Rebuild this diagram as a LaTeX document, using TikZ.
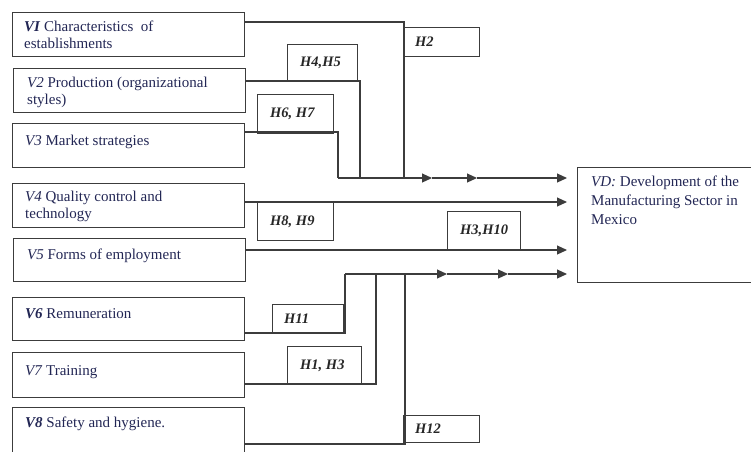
\documentclass[tikz,border=0pt]{standalone}
\usepackage{fontspec}
\setmainfont{Liberation Serif}
\usetikzlibrary{arrows.meta}
\definecolor{inkblue}{RGB}{34,38,84}
\definecolor{inkline}{RGB}{60,60,60}
\tikzset{box/.style={draw=inkline,line width=1.1pt,anchor=north west,inner sep=0pt},
vtext/.style={anchor=north west,inner sep=0pt,align=left,text=inkblue,font=\fontsize{15}{16.5}\selectfont},
htext/.style={anchor=west,inner sep=0pt,text=black!85,font=\fontsize{14.5}{16}\selectfont\bfseries\itshape},
link/.style={draw=inkline,line width=1.1pt},
flow/.style={link,-{Triangle[length=10pt,width=9pt]}}}

\begin{document}
\begin{tikzpicture}[x=1pt,y=-1pt]
\path[use as bounding box] (0,0) rectangle (751,451);
% variable boxes
\node[box,minimum width=232pt,minimum height=44pt] (v1) at (12,12) {};
\node[box,minimum width=232pt,minimum height=44pt] (v2) at (13,68) {};
\node[box,minimum width=232pt,minimum height=44pt] (v3) at (12,123) {};
\node[box,minimum width=232pt,minimum height=44pt] (v4) at (12,183) {};
\node[box,minimum width=232pt,minimum height=43pt] (v5) at (13,238) {};
\node[box,minimum width=232pt,minimum height=43pt] (v6) at (12,297) {};
\node[box,minimum width=232pt,minimum height=45pt] (v7) at (12,352) {};
\node[box,minimum width=232pt,minimum height=60pt] (v8) at (12,407) {};
\node[box,minimum width=190pt,minimum height=115pt] (vd) at (577,167) {};
\node[vtext] (t1) at ([shift={(12,9)}]v1.north west) {\textbf{\textit{VI}} Characteristics\ \ of\\establishments};
\node[vtext] (t2) at ([shift={(14,9)}]v2.north west) {\textit{V2} Production (organizational\\styles)};
\node[vtext] (t3) at ([shift={(13,12)}]v3.north west) {\textit{V3} Market strategies};
\node[vtext] (t4) at ([shift={(13,8)}]v4.north west) {\textit{V4} Quality control and\\technology};
\node[vtext] (t5) at ([shift={(14,11)}]v5.north west) {\textit{V5} Forms of employment};
\node[vtext] (t6) at ([shift={(13,11)}]v6.north west) {\textbf{\textit{V6}} Remuneration};
\node[vtext] (t7) at ([shift={(13,13)}]v7.north west) {\textit{V7} Training};
\node[vtext] (t8) at ([shift={(13,10)}]v8.north west) {\textbf{\textit{V8}} Safety and hygiene.};
\node[vtext,font=\fontsize{15}{19}\selectfont] (td) at ([shift={(14,9)}]vd.north west) {\textit{VD:} Development of the\\Manufacturing Sector in\\Mexico};
% hypothesis boxes
\node[box,minimum width=76pt,minimum height=29pt] (h2) at (403,27) {};
\node[box,minimum width=70pt,minimum height=37pt] (h45) at (287,44) {};
\node[box,minimum width=76pt,minimum height=39pt] (h67) at (257,94) {};
\node[box,minimum width=76pt,minimum height=38pt] (h89) at (257,202) {};
\node[box,minimum width=73pt,minimum height=38pt] (h310) at (447,211) {};
\node[box,minimum width=71pt,minimum height=29pt] (h11) at (272,304) {};
\node[box,minimum width=74pt,minimum height=38pt] (h13) at (287,346) {};
\node[box,minimum width=76pt,minimum height=27pt] (h12) at (403,415) {};
\node[htext] at ([xshift=12pt]h2.west) {H2};
\node[htext] at ([xshift=13pt]h45.west) {H4,H5};
\node[htext] at ([xshift=13pt]h67.west) {H6, H7};
\node[htext] at ([xshift=13pt]h89.west) {H8, H9};
\node[htext] at ([xshift=13pt]h310.west) {H3,H10};
\node[htext] at ([xshift=12pt]h11.west) {H11};
\node[htext] at ([xshift=13pt]h13.west) {H1, H3};
\node[htext] at ([xshift=12pt]h12.west) {H12};
% junctions of the two buses
\coordinate (bus1) at (338,178);
\coordinate (bus2) at (345,274);
\coordinate (k1) at (404,22);
\coordinate (k2) at (360,81);
\coordinate (k3) at (338,132);
\coordinate (k6) at (345,333);
\coordinate (k7) at (376,384);
\coordinate (k8) at (405,444);
\coordinate (a1) at (432,178);
\coordinate (a2) at (477,178);
\coordinate (a3) at (447,274);
\coordinate (a4) at (508,274);
\coordinate (e1) at (567,178);
\coordinate (e2) at (567,274);
% links into the buses
\draw[link] (v1.east |- k1) -- (k1) -- (k1 |- bus1);
\draw[link] (v2.east |- k2) -- (k2) -- (k2 |- bus1);
\draw[link] (v3.east |- k3) -- (k3) -- (bus1);
\draw[link] (v6.east |- k6) -- (k6) -- (bus2);
\draw[link] (v7.east |- k7) -- (k7) -- (k7 |- bus2);
\draw[link] (v8.east |- k8) -- (k8) -- (k8 |- bus2);
% arrows into VD
\draw[flow] (bus1) -- (a1);
\draw[flow] (a1) -- (a2);
\draw[flow] (a2) -- (e1);
\draw[flow] (v4.east |- 0,202) -- (e1 |- 0,202);
\draw[flow] (v5.east |- 0,250) -- (e1 |- 0,250);
\draw[flow] (bus2) -- (a3);
\draw[flow] (a3) -- (a4);
\draw[flow] (a4) -- (e2);
\end{tikzpicture}
\end{document}
